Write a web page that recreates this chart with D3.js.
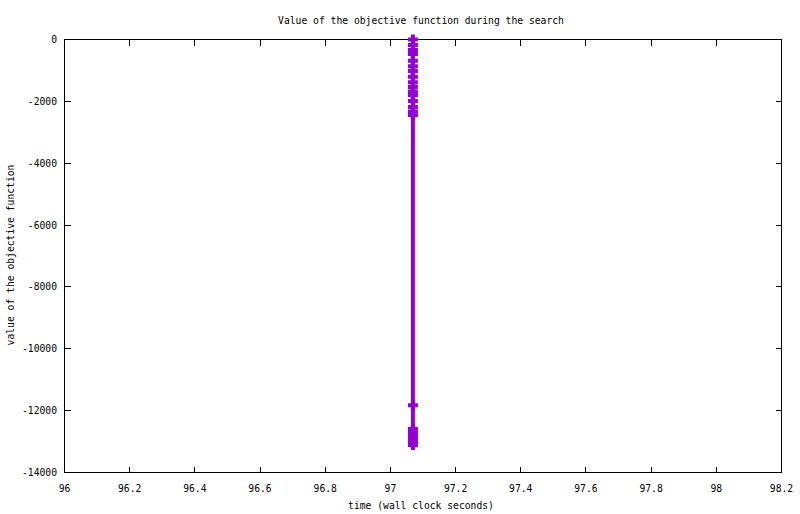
<!DOCTYPE html>
<html><head><meta charset="utf-8">
<script src="https://cdn.jsdelivr.net/npm/d3@7"></script>
<style>
body{margin:0;background:#fff;}
text{font-family:"DejaVu Sans Mono",monospace;font-size:9.7px;fill:#000;}
</style></head>
<body>
<svg id="c" width="800" height="514"></svg>
<script>
// data
const times = [97.069,97.069,97.069,97.069,97.069,97.069,97.069,97.069,97.069,97.069,97.069,97.069,97.069,97.069,97.069,97.069,97.069,97.069,97.069,97.069,97.069,97.069,97.069];
const objective = [0,-178,-340,-469,-685,-866,-1018,-1203,-1384,-1536,-1681,-1794,-1988,-2182,-2328,-2441,-11827,-12594,-12710,-12820,-12930,-13030,-13111];
const xTicks = [96,96.2,96.4,96.6,96.8,97,97.2,97.4,97.6,97.8,98,98.2];
const yTicks = [0,-2000,-4000,-6000,-8000,-10000,-12000,-14000];
const titleText = "Value of the objective function during the search";
const xLabel = "time (wall clock seconds)";
const yLabel = "value of the objective function";

const L=64.5,R=781.5,T=39.5,B=472.5;
const svg=d3.select("#c");
const x=d3.scaleLinear().domain([96,98.2]).range([L,R]);
const y=d3.scaleLinear().domain([-14000,0]).range([B,T]);
const color="#9400d3";

// border
svg.append("rect").attr("x",L).attr("y",T).attr("width",R-L).attr("height",B-T)
  .attr("fill","none").attr("stroke","#000").attr("stroke-width",1).attr("shape-rendering","crispEdges");

const tl=6;
const g=svg.append("g").attr("shape-rendering","crispEdges").attr("stroke","#000").attr("stroke-width",1);
xTicks.forEach(t=>{
  const px=Math.round(x(t)-0.5)+0.5;
  g.append("line").attr("x1",px).attr("x2",px).attr("y1",B).attr("y2",B-tl);
  g.append("line").attr("x1",px).attr("x2",px).attr("y1",T).attr("y2",T+tl);
  svg.append("text").attr("x",x(t)).attr("y",492).attr("text-anchor","middle").text(d3.format("")(t));
});
yTicks.forEach(t=>{
  const py=Math.round(y(t)-0.5)+0.5;
  g.append("line").attr("x1",L).attr("x2",L+tl).attr("y1",py).attr("y2",py);
  g.append("line").attr("x1",R).attr("x2",R-tl).attr("y1",py).attr("y2",py);
  svg.append("text").attr("x",57).attr("y",y(t)+3.5).attr("text-anchor","end").text(String(t));
});

svg.append("text").attr("x",421).attr("y",24).attr("text-anchor","middle").text(titleText);
svg.append("text").attr("x",421).attr("y",509).attr("text-anchor","middle").text(xLabel);
svg.append("text").attr("transform","translate(14,255) rotate(-90)").attr("text-anchor","middle").text(yLabel);

const pts=times.map((t,i)=>[t,objective[i]]);
svg.append("path").datum(pts)
  .attr("d",d3.line().x(d=>x(d[0])).y(d=>y(d[1])))
  .attr("fill","none").attr("stroke",color).attr("stroke-width",4);
svg.append("g").selectAll("path").data(pts).join("path")
  .attr("d",d=>{const px=x(d[0]),py=y(d[1]);return `M${px-5},${py}H${px+5}M${px},${py-5}V${py+5}`;})
  .attr("fill","none").attr("stroke",color).attr("stroke-width",4);
</script>
</body></html>
